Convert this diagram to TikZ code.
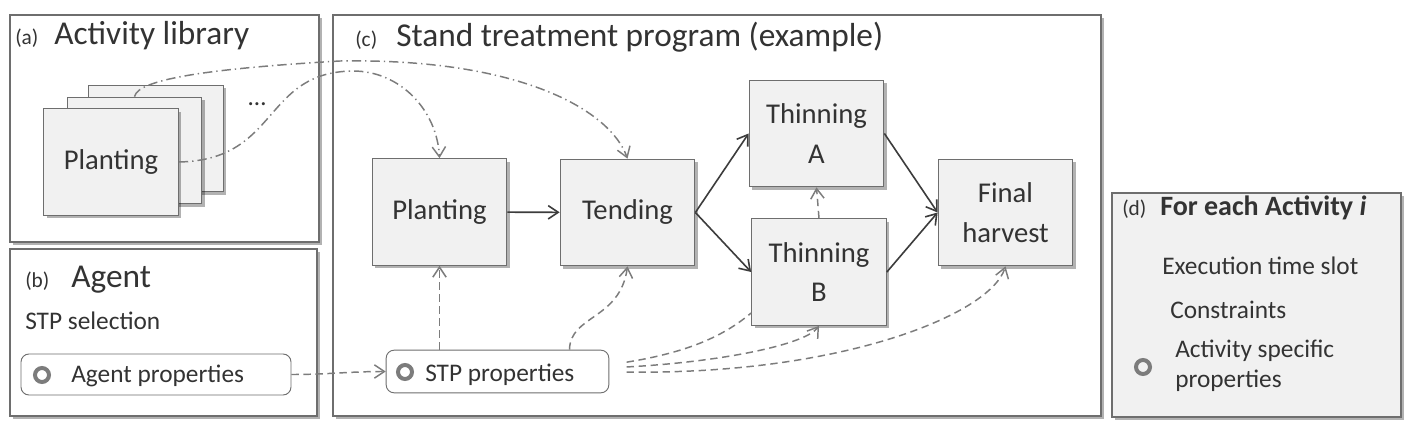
\documentclass[tikz,border=0pt]{standalone}
\usepackage{fontspec}
\setmainfont{Carlito}
\usetikzlibrary{arrows.meta,shadows}
\definecolor{ink}{HTML}{333333}
\definecolor{frame}{HTML}{6E6E6E}
\definecolor{pale}{HTML}{F1F1F1}
\definecolor{arrowgray}{HTML}{3C3C3C}
\definecolor{hint}{HTML}{7C7C7C}
\newcommand{\headfont}{\fontsize{25}{30}\selectfont}
\newcommand{\tagfont}{\fontsize{16}{19}\selectfont}
\newcommand{\actfont}{\fontsize{21.5}{29.5}\selectfont}
\newcommand{\bodyfont}{\fontsize{19}{22.5}\selectfont}
\begin{document}
\begin{tikzpicture}[
    x=0.75pt, y=-0.75pt,
    every node/.style={text=ink, inner sep=0pt},
    softshadow/.style={drop shadow={shadow xshift=2.2pt, shadow yshift=-2.2pt, fill=black, opacity=.3}},
    panel/.style={draw=frame, line width=.8pt, fill=white, softshadow},
    act/.style={draw=frame, line width=.8pt, fill=pale, softshadow,
        minimum width=101pt, minimum height=80pt, align=center, font=\actfont},
    prop/.style={draw=frame, line width=.7pt, fill=white, rounded corners=6pt},
    ring/.style={circle, draw=hint, line width=3pt, minimum size=10.5pt},
    flow/.style={draw=arrowgray, line width=1.2pt, -{Straight Barb[length=7.5pt, width=10pt]}},
    feed/.style={draw=hint, line width=1.1pt, dash pattern=on 5.5pt off 3.5pt,
        -{Straight Barb[length=7.5pt, width=10pt]}},
    pick/.style={draw=hint, line width=1.1pt, dash pattern=on 7pt off 3pt on 1pt off 3pt,
        -{Straight Barb[length=7.5pt, width=10pt]}}]
  \useasboundingbox (0,0) rectangle (1414,431);
  \draw[panel] (10,15) rectangle (319,242);
  \draw[panel] (10,249) rectangle (317,416);
  \draw[panel] (333,15) rectangle (1101,416);
  \draw[panel, fill=pale] (1112,193) rectangle (1401,417);

  \node[anchor=base west, font=\tagfont] (taga) at (15,45) {(a)};
  \node[anchor=base west, font=\headfont] (heada) at (54,45) {Activity library};
  \node[anchor=base west, font=\tagfont] (tagb) at (25,287) {(b)};
  \node[anchor=base west, font=\headfont] (headb) at (71,287) {Agent};
  \node[anchor=base west, font=\bodyfont] (select) at (25,329) {STP selection};
  \node[anchor=base west, font=\tagfont] (tagc) at (355,47) {(c)};
  \node[anchor=base west, font=\headfont] (headc) at (396,47) {Stand treatment program (example)};
  \node[anchor=base west, font=\tagfont] (tagd) at (1122,215) {(d)};
  \node[anchor=base west, font=\fontsize{21}{25}\selectfont\bfseries] (headd) at (1160,215)
      {For each Activity \textit{i}};
  \node[anchor=base west, font=\bodyfont] (slot) at (1162,274) {Execution time slot};
  \node[anchor=base west, font=\bodyfont] (constr) at (1170,318) {Constraints};
  \node[anchor=base west, font=\bodyfont] (spec) at (1175,357) {Activity specific};
  \node[anchor=base west, font=\bodyfont] (specb) at (1175,387) {properties};
  \node[ring] (specdot) at (1143,367) {};

  \node[act] (cardback) at (156,138.5) {};
  \node[act] (cardmid) at (134.5,150.5) {};
  \node[act] (cardfront) at (111,162) {Planting};
  \node[anchor=base, font=\bodyfont] (more) at (257,106) {\dots};

  \node[act] (plant) at (439.5,212) {Planting};
  \node[act] (tend) at (627.5,212.5) {Tending};
  \node[act] (thinA) at (816.5,133.5) {Thinning\\A};
  \node[act] (thinB) at (819,272) {Thinning\\B};
  \node[act] (harvest) at (1005.5,212.5) {Final\\harvest};

  \node[prop, minimum width=202.5pt, minimum height=30.75pt] (agent) at (156,374.5) {};
  \node[ring] (agentdot) at (42,375) {};
  \node[anchor=base west, font=\bodyfont] (agenttxt) at (71,382) {Agent properties};
  \node[prop, minimum width=167pt, minimum height=32pt] (stp) at (497.5,371.5) {};
  \node[ring] (stpdot) at (405,372) {};
  \node[anchor=base west, font=\bodyfont] (stptxt) at (425,381) {STP properties};

  \draw[flow] (plant) -- (tend);
  \draw[flow] (tend.east) -- (thinA.west);
  \draw[flow] (tend.east) -- (thinB.west);
  \draw[flow] (thinA.east) -- (harvest.west);
  \draw[flow] (thinB.east) -- (harvest.west);
  \draw[feed] (thinB.north) -- (thinA.south);

  \draw[pick] (cardmid.north) .. controls (138,78) and (220,68) .. (340,61)
      .. controls (520,58) and (610,110) .. (tend.north);
  \draw[pick] (cardfront.east) .. controls (280,160) and (262,72) .. (353,71)
      .. controls (400,71) and (437,110) .. (plant.north);

  \draw[feed] (agent.east) to[out=0, in=180] (stp.west);
  \draw[feed] (plant.south |- stp.north) -- (plant.south);
  \draw[feed] ([xshift=54pt]stp.north) .. controls (570,315) and (620,320) .. (tend.south);
  \draw[feed, -] ([xshift=13pt, yshift=7pt]stp.east) .. controls (690,352) and (725,335)
      .. ([yshift=-30.75pt]thinB.west);
  \draw[feed] ([xshift=13pt, yshift=3.4pt]stp.east) .. controls (720,362) and (805,345) .. (thinB.south);
  \draw[feed] ([xshift=13pt, yshift=-.4pt]stp.east) .. controls (840,375) and (990,315) .. (harvest.south);
\end{tikzpicture}
\end{document}
